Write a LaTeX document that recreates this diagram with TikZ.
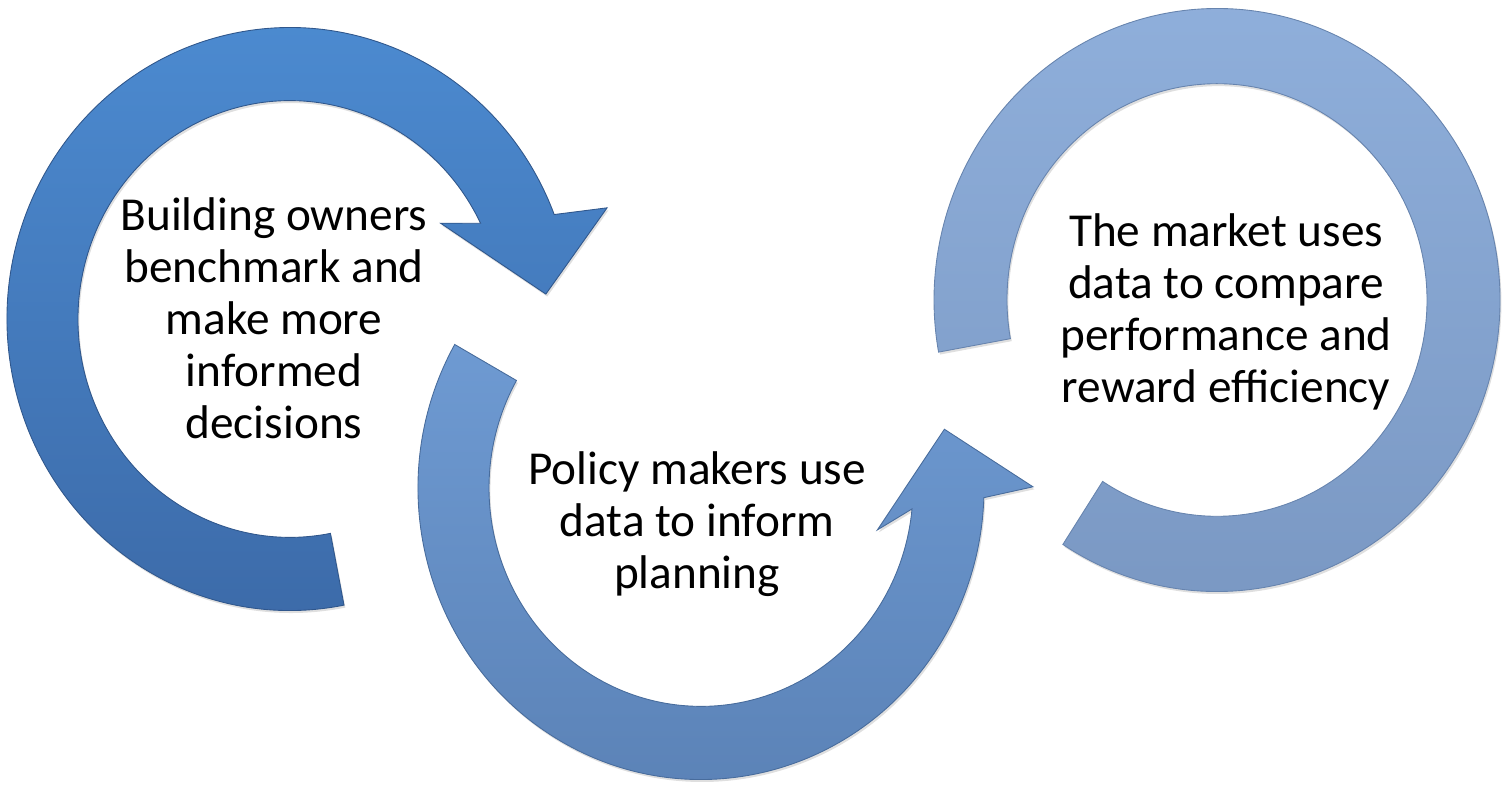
\documentclass[tikz,border=0pt]{standalone}
\usepackage{fontspec}
\setmainfont{Carlito}
\usetikzlibrary{shadows}

\definecolor{ownerstop}{HTML}{4C8BD1}
\definecolor{ownersbottom}{HTML}{3C6AA8}
\definecolor{ownersedge}{HTML}{30578C}
\definecolor{policytop}{HTML}{6E9AD2}
\definecolor{policybottom}{HTML}{5A81B5}
\definecolor{policyedge}{HTML}{486C9C}
\definecolor{markettop}{HTML}{90B0DC}
\definecolor{marketbottom}{HTML}{7997C2}
\definecolor{marketedge}{HTML}{6784AE}

\begin{document}
\begin{tikzpicture}[x=0.02cm,y=0.02cm,
    ring/.style={line width=0.5pt,
      drop shadow={shadow xshift=0.8pt,shadow yshift=-1.4pt,opacity=0.25}},
    ringtext/.style={align=center,inner sep=0pt,
      font=\fontsize{26.9}{29.6}\selectfont}]
  \useasboundingbox (0,0) rectangle (1509,-785);

  % building owners: runs clockwise, head on the right
  \begin{scope}[shift={(290,-319)},yscale=1.03]
    \draw[ring,draw=ownersedge,top color=ownerstop,bottom color=ownersbottom]
      (281:283) arc[start angle=281,end angle=21,radius=283]
      -- (18.8:335) -- (5.4:257) -- (31.7:177) -- (26:212)
      arc[start angle=26,end angle=281,radius=212] -- cycle;
  \end{scope}

  % policy makers: runs the other way, head at the upper right
  \begin{scope}[shift={(701,-488)},yscale=1.03]
    \draw[ring,draw=policyedge,top color=policytop,bottom color=policybottom]
      (150.5:283) arc[start angle=150.5,end angle=358.1,radius=283]
      -- (360.2:332) -- (373.2:250) -- (347:181) -- (354.5:212)
      arc[start angle=354.5,end angle=150.5,radius=212] -- cycle;
  \end{scope}

  % the market: open ring, no head
  \begin{scope}[shift={(1217,-300)},yscale=1.03]
    \draw[ring,draw=marketedge,top color=markettop,bottom color=marketbottom]
      (237:283) arc[start angle=237,end angle=550.3,radius=283]
      -- (550.3:210)
      arc[start angle=550.3,end angle=237,radius=210] -- cycle;
  \end{scope}

  \node[ringtext] (owners) at (274,-318)
    {Building owners\\benchmark and\\make more\\informed\\decisions};
  \node[ringtext] (policy) at (697,-524)
    {Policy makers use\\data to inform\\planning};
  \node[ringtext] (market) at (1226,-312)
    {The market uses\\data to compare\\performance and\\reward efficiency};
\end{tikzpicture}
\end{document}
